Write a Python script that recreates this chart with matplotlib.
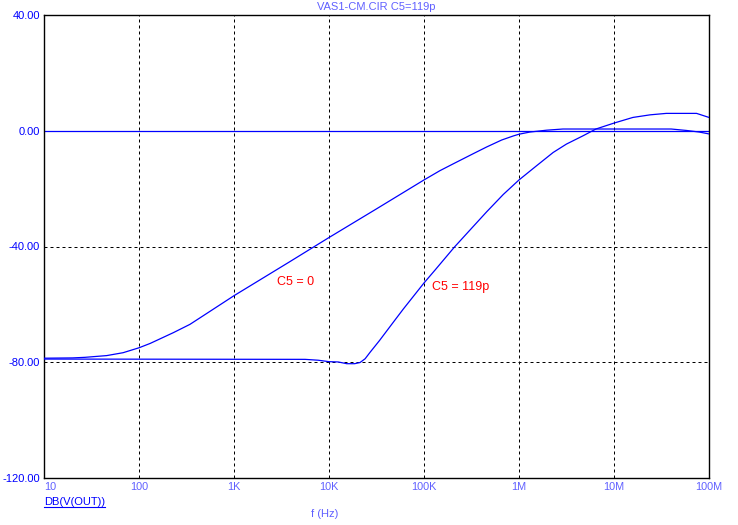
import numpy as np
import matplotlib
matplotlib.use("Agg")
import matplotlib.pyplot as plt
from matplotlib.lines import Line2D

plt.rcParams['font.family'] = ['Liberation Sans', 'DejaVu Sans']

# Curve C5 = 0
f_a = [10, 20, 27, 45.7, 68, 100, 131, 229, 344, 513, 1e3, 3.8e3, 1e4, 3.16e4, 1e5,
       1.47e5, 2.04e5, 3.31e5, 4.57e5, 6.57e5, 8.7e5, 1e6, 1.3e6, 1.96e6, 2.9e6, 4e7,
       5.8e7, 7.9e7, 1e8]
db_a = [-78.6, -78.5, -78.3, -77.7, -76.7, -75.0, -73.5, -69.8, -66.9, -63.2, -57.0,
        -45.4, -36.9, -27.0, -17.0, -13.8, -11.4, -7.9, -5.6, -3.2, -1.8, -1.2, -0.45,
        0.2, 0.6, 0.6, 0.1, -0.45, -1.1]

# Curve C5 = 119p
f_b = [10, 5.6e3, 7.7e3, 1e4, 1.25e4, 1.54e4, 1.86e4, 2.12e4, 2.4e4, 2.7e4, 3.4e4,
       4.95e4, 6.06e4, 1e5, 1.31e5, 2.09e5, 3.05e5, 4.57e5, 6.84e5, 1e6, 1.53e6, 2.29e6,
       3.16e6, 4.75e6, 6.45e6, 1e7, 1.58e7, 2.4e7, 3.55e7, 7.4e7, 1e8]
db_b = [-78.9, -79.0, -79.3, -79.8, -79.9, -80.5, -80.5, -80.1, -78.8, -76.6, -72.5,
        -65.4, -61.6, -52.6, -48.1, -40.2, -34.3, -28.0, -22.0, -17.0, -12.1, -7.5,
        -4.6, -1.7, 0.6, 2.65, 4.6, 5.5, 6.0, 6.0, 4.6]

x_ticks = [10, 100, 1e3, 1e4, 1e5, 1e6, 1e7, 1e8]
x_labels = ['10', '100', '1K', '10K', '100K', '1M', '10M', '100M']
y_ticks = [-120, -80, -40, 0, 40]
y_labels = ['-120.00', '-80.00', '-40.00', '0.00', '40.00']

W, H = 738, 525
fig = plt.figure(figsize=(W / 100, H / 100), dpi=100)
L, R, T, B = 44, 709, 15, 478
ax = fig.add_axes([L / W, 1 - B / H, (R - L) / W, (B - T) / H])

ax.set_xscale('log')
ax.set_xlim(10, 1e8)
ax.set_ylim(-120, 40)

blue = '#0000FF'
light = '#6060FF'

# grid
for xt in x_ticks[1:-1]:
    ax.axvline(xt, color='black', lw=0.72, ls=(0, (3, 3)), zorder=1)
for yt in [-80, -40]:
    ax.axhline(yt, color='black', lw=0.72, ls=(0, (3, 3)), zorder=1)
ax.axhline(0, color=blue, lw=0.9, zorder=2)

ax.plot(f_a, db_a, color=blue, lw=0.9, zorder=3)
ax.plot(f_b, db_b, color=blue, lw=0.9, zorder=3)

ax.set_xticks(x_ticks)
ax.set_xticklabels(x_labels)
ax.minorticks_off()
ax.set_yticks(y_ticks)
ax.set_yticklabels(y_labels)
ax.tick_params(axis='both', length=0)
ax.tick_params(axis='y', pad=3, labelsize=8, labelcolor=blue)
ax.tick_params(axis='x', pad=3, labelsize=7.8, labelcolor=light)
ax.get_xticklabels()[0].set_horizontalalignment('left')

for s in ax.spines.values():
    s.set_color('black')
    s.set_linewidth(1.0)

ax.text(2838, -53.3, 'C5 = 0', color='red', fontsize=9, ha='left', va='baseline')
ax.text(1.205e5, -55.0, 'C5 = 119p', color='red', fontsize=9, ha='left', va='baseline')

fig.text(376.5 / W, 1 - 7.5 / H, 'VAS1-CM.CIR C5=119p', color=light, fontsize=8,
         ha='center', va='center')
fig.text(324.5 / W, 1 - 514 / H, 'f (Hz)', color=light, fontsize=8, ha='center', va='center')
t = fig.text(44 / W, 1 - 505 / H, 'DB(V(OUT))', color=blue, fontsize=8, ha='left', va='baseline')

fig.canvas.draw()
bb = t.get_window_extent(renderer=fig.canvas.get_renderer())
yl = (1 - 506.5 / H)
fig.add_artist(Line2D([bb.x0 / W, bb.x1 / W], [yl, yl], color=blue, lw=0.8,
                      transform=fig.transFigure))

fig.savefig('out.png', dpi=100)
